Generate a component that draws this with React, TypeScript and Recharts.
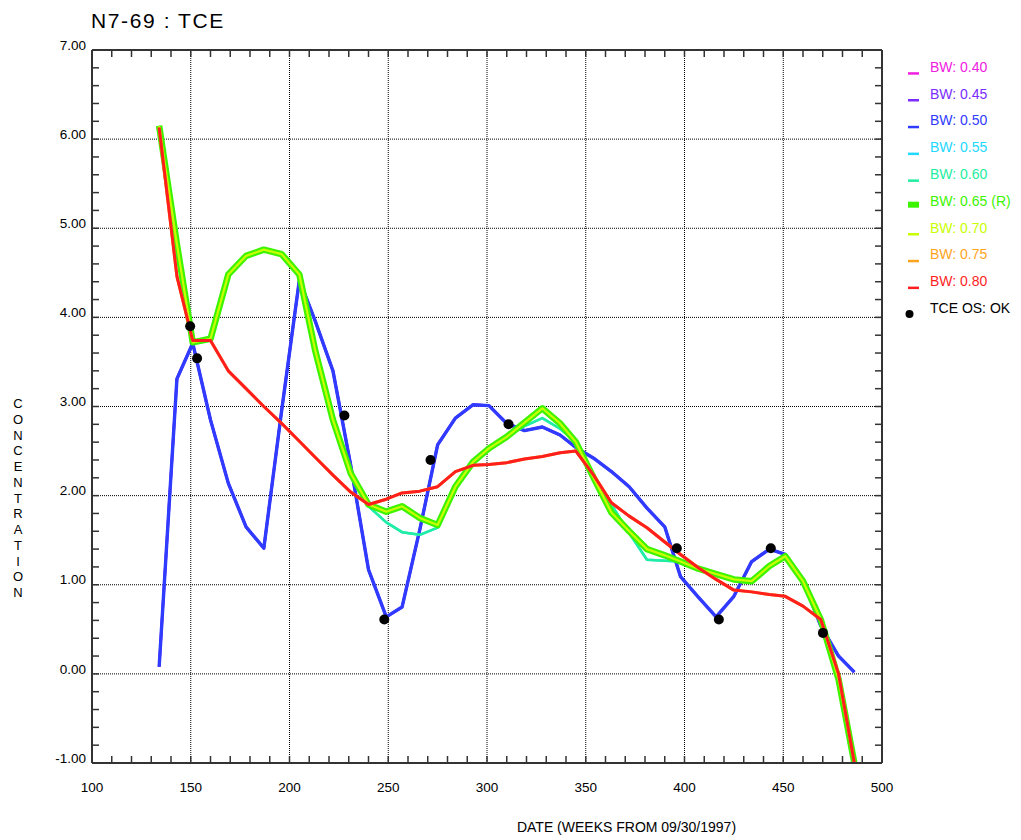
import React from 'react';
import { ComposedChart, Line, Scatter, XAxis, YAxis, CartesianGrid, ReferenceLine } from 'recharts';

// sample weeks (weeks from 09/30/1997)
const weeks = [134, 143, 151, 160, 169, 178, 187, 196, 205, 213, 222, 231, 240, 249, 257, 266, 275, 284, 293, 301,
  310, 319, 328, 337, 345, 354, 363, 372, 381, 390, 398, 407, 416, 425, 434, 443, 451, 460, 469, 478, 486];

// smoothed TCE concentration by bandwidth (0.40 / 0.45 overlap 0.50, 0.55 overlaps 0.60, 0.70 overlaps 0.65, 0.75 overlaps 0.80)
const bw050 = [0.08, 3.31, 3.71, 2.85, 2.14, 1.65, 1.41, 2.95, 4.42, 3.96, 3.40, 2.34, 1.17, 0.64, 0.75, 1.62, 2.57, 2.87, 3.02, 3.01,
  2.81, 2.73, 2.77, 2.68, 2.54, 2.42, 2.27, 2.10, 1.86, 1.65, 1.09, 0.86, 0.64, 0.87, 1.26, 1.40, 1.34, 1.04, 0.54, 0.20, 0.02];
const bw060 = [6.15, 4.82, 3.72, 3.76, 4.48, 4.69, 4.76, 4.71, 4.48, 3.63, 2.85, 2.25, 1.88, 1.70, 1.59, 1.56, 1.64, 2.10, 2.38, 2.53,
  2.66, 2.78, 2.87, 2.75, 2.60, 2.20, 1.90, 1.58, 1.28, 1.27, 1.26, 1.18, 1.12, 1.06, 1.04, 1.21, 1.32, 1.04, 0.61, -0.06, -1.0];
const bw065 = [6.15, 4.82, 3.72, 3.76, 4.48, 4.69, 4.76, 4.71, 4.48, 3.63, 2.85, 2.25, 1.90, 1.82, 1.88, 1.75, 1.67, 2.10, 2.38, 2.53,
  2.66, 2.82, 2.98, 2.81, 2.60, 2.20, 1.81, 1.60, 1.40, 1.33, 1.26, 1.18, 1.12, 1.06, 1.04, 1.21, 1.32, 1.04, 0.61, -0.06, -1.0];
const bw080 = [6.13, 4.46, 3.74, 3.74, 3.40, 3.20, 3.00, 2.81, 2.61, 2.43, 2.23, 2.04, 1.90, 1.96, 2.03, 2.05, 2.10, 2.27, 2.34, 2.35,
  2.37, 2.41, 2.44, 2.48, 2.50, 2.23, 1.92, 1.77, 1.64, 1.48, 1.34, 1.19, 1.06, 0.94, 0.92, 0.89, 0.87, 0.76, 0.61, 0.0, -1.0];

// observed samples
const sampleWeeks = [149.7, 153.2, 227.8, 248.0, 271.4, 310.9, 396.1, 417.4, 443.7, 470.1];
const sampleConc = [3.90, 3.54, 2.90, 0.61, 2.40, 2.80, 1.41, 0.61, 1.41, 0.46];

const X_TICKS = [100, 150, 200, 250, 300, 350, 400, 450, 500];
const Y_TICKS = [-1, 0, 1, 2, 3, 4, 5, 6, 7];
const Y_TITLE = 'CONCENTRATION';

const FONT = '"Liberation Sans", Arial, sans-serif';

const SERIES = [
  { name: 'BW: 0.40', key: 'b050', color: '#f020e0', width: 2.6 },
  { name: 'BW: 0.45', key: 'b050', color: '#7b2cff', width: 2.6 },
  { name: 'BW: 0.50', key: 'b050', color: '#2f3cff', width: 3.4 },
  { name: 'BW: 0.55', key: 'b060', color: '#22d8ff', width: 2.5 },
  { name: 'BW: 0.60', key: 'b060', color: '#22eea0', width: 2.5 },
  { name: 'BW: 0.65 (R)', key: 'b065', color: '#3cf400', width: 6.5, thick: true },
  { name: 'BW: 0.70', key: 'b065', color: '#c8ff00', width: 2.2 },
  { name: 'BW: 0.75', key: 'b080', color: '#ffa41c', width: 3 },
  { name: 'BW: 0.80', key: 'b080', color: '#ff1e1e', width: 3 },
];

const XTick = ({ x, y, payload }: any) => (
  <text x={x} y={y + 29} textAnchor="middle" fontSize={13.5} fontFamily={FONT} fill="#000">
    {payload.value}
  </text>
);

const YTick = ({ x, y, payload }: any) => (
  <text x={x} y={y - 5} dy="0.35em" textAnchor="end" fontSize={13.5} fontFamily={FONT} fill="#000">
    {Number(payload.value).toFixed(2)}
  </text>
);

export default function App() {
  const rows = weeks.map((w, i) => ({ w, b050: bw050[i], b060: bw060[i], b065: bw065[i], b080: bw080[i] }));
  const samples = sampleWeeks.map((w, i) => ({ w, c: sampleConc[i] }));

  const xMinor: number[] = [];
  for (let v = 110; v < 500; v += 10) xMinor.push(v);
  const yMinor: number[] = [];
  for (let v = -0.8; v < 6.95; v += 0.2) yMinor.push(Math.round(v * 10) / 10);
  const tickY = 7 / 89.1;
  const tickX = 7 / 1.975;
  const tickStroke = { stroke: '#333', strokeWidth: 1.5 };

  return (
    <div style={{ position: 'absolute', left: 0, top: 0, width: 1021, height: 840, background: '#fff', fontFamily: FONT }}>
      <ComposedChart width={1021} height={840} data={rows} margin={{ top: 50, right: 139, bottom: 47, left: 32 }}>
        <CartesianGrid stroke="#000" strokeDasharray="1 1" />
        <XAxis
          type="number"
          dataKey="w"
          domain={[100, 500]}
          ticks={X_TICKS}
          interval={0}
          allowDataOverflow
          height={30}
          tickSize={0}
          tickMargin={0}
          tickLine={false}
          axisLine={{ stroke: '#333', strokeWidth: 2 }}
          tick={<XTick />}
        />
        <YAxis
          type="number"
          domain={[-1, 7]}
          ticks={Y_TICKS}
          interval={0}
          allowDataOverflow
          width={60}
          tickSize={0}
          tickMargin={6}
          tickLine={false}
          axisLine={{ stroke: '#333', strokeWidth: 2 }}
          tick={<YTick />}
        />
        <ReferenceLine y={7} stroke="#333" strokeWidth={2} />
        <ReferenceLine x={500} stroke="#333" strokeWidth={2} />
        {xMinor.map(v => (
          <ReferenceLine key={`xb${v}`} segment={[{ x: v, y: -1 }, { x: v, y: -1 + tickY }]} {...tickStroke} ifOverflow="visible" />
        ))}
        {xMinor.map(v => (
          <ReferenceLine key={`xt${v}`} segment={[{ x: v, y: 7 }, { x: v, y: 7 - tickY }]} {...tickStroke} ifOverflow="visible" />
        ))}
        {yMinor.map(v => (
          <ReferenceLine key={`yl${v}`} segment={[{ x: 100, y: v }, { x: 100 + tickX, y: v }]} {...tickStroke} ifOverflow="visible" />
        ))}
        {yMinor.map(v => (
          <ReferenceLine key={`yr${v}`} segment={[{ x: 500, y: v }, { x: 500 - tickX, y: v }]} {...tickStroke} ifOverflow="visible" />
        ))}
        {SERIES.map(s => (
          <Line
            key={s.name}
            type="linear"
            dataKey={s.key}
            name={s.name}
            stroke={s.color}
            strokeWidth={s.width}
            strokeLinejoin="round"
            dot={false}
            activeDot={false}
            isAnimationActive={false}
          />
        ))}
        <Scatter
          data={samples}
          dataKey="c"
          name="TCE OS: OK"
          fill="#000"
          isAnimationActive={false}
          shape={(p: any) => <circle cx={p.cx} cy={p.cy} r={5} fill="#000" />}
        />
      </ComposedChart>

      <svg width={1021} height={840} style={{ position: 'absolute', left: 0, top: 0, pointerEvents: 'none' }}>
        <text x={91} y={27.5} fontSize={21} fontFamily={FONT} letterSpacing={1.6} fill="#000">N7-69 : TCE</text>
        <text x={626.5} y={832} textAnchor="middle" fontSize={14} fontFamily={FONT} fill="#000">
          DATE (WEEKS FROM 09/30/1997)
        </text>
        {Y_TITLE.split('').map((ch, i) => (
          <text key={i} x={18} y={408 + i * 15.75} textAnchor="middle" fontSize={13} fontFamily={FONT} fill="#000">
            {ch}
          </text>
        ))}
        {SERIES.map((s, i) => {
          const base = 71.7 + i * 26.8;
          return (
            <g key={s.name}>
              {s.thick ? (
                <rect x={908} y={base - 4} width={11} height={6} fill={s.color} />
              ) : (
                <rect x={908} y={base + 0.5} width={11} height={2.5} fill={s.color} />
              )}
              <text x={930} y={base} fontSize={14} fontFamily={FONT} fill={s.color}>{s.name}</text>
            </g>
          );
        })}
        <circle cx={909.5} cy={71.7 + 9 * 26.8 + 1} r={4} fill="#000" />
        <text x={930} y={71.7 + 9 * 26.8} fontSize={14} fontFamily={FONT} fill="#000">TCE OS: OK</text>
      </svg>
    </div>
  );
}
